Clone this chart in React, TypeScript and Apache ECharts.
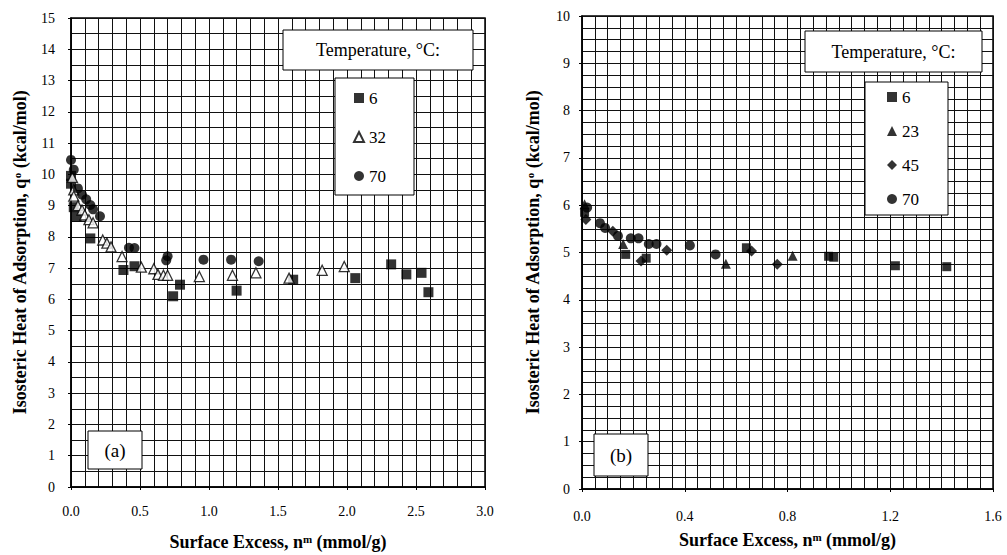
import React, { useEffect, useRef } from "react";
import * as echarts from "echarts";

// Panel (a): x = surface excess (mmol/g), y = isosteric heat (kcal/mol)
const a6: number[][] = [[0.0,9.95],[0.0,9.7],[0.02,8.95],[0.04,8.65],[0.14,7.95],[0.38,6.94],[0.46,7.06],[0.74,6.1],[0.79,6.47],[1.2,6.28],[1.61,6.63],[2.06,6.68],[2.32,7.12],[2.43,6.8],[2.54,6.85],[2.59,6.23]];
const a32: number[][] = [[0.01,9.9],[0.02,9.5],[0.02,9.3],[0.05,9.0],[0.08,8.86],[0.1,8.7],[0.13,8.55],[0.16,8.45],[0.23,7.9],[0.26,7.8],[0.29,7.68],[0.37,7.37],[0.51,7.03],[0.6,6.98],[0.63,6.8],[0.67,6.77],[0.7,6.77],[0.93,6.73],[1.17,6.77],[1.34,6.85],[1.58,6.68],[1.82,6.93],[1.98,7.05]];
const a70: number[][] = [[0.0,10.46],[0.02,10.15],[0.05,9.55],[0.08,9.35],[0.11,9.2],[0.14,9.02],[0.16,8.88],[0.21,8.66],[0.42,7.65],[0.46,7.64],[0.69,7.25],[0.7,7.38],[0.96,7.27],[1.16,7.27],[1.36,7.22]];

// Panel (b)
const b6: number[][] = [[0.01,5.85],[0.17,4.96],[0.25,4.88],[0.64,5.1],[0.96,4.92],[0.98,4.9],[1.22,4.72],[1.42,4.7]];
const b23: number[][] = [[0.01,6.02],[0.16,5.18],[0.56,4.76],[0.82,4.93]];
const b45: number[][] = [[0.015,5.7],[0.12,5.45],[0.23,4.82],[0.33,5.05],[0.66,5.03],[0.76,4.75]];
const b70: number[][] = [[0.02,5.95],[0.07,5.62],[0.09,5.52],[0.14,5.35],[0.19,5.3],[0.22,5.3],[0.26,5.18],[0.29,5.18],[0.42,5.15],[0.52,4.96]];

const legendA = ["6", "32", "70"];
const legendB = ["6", "23", "45", "70"];
const xTitle = "Surface Excess, n{sup|m} (mmol/g)";
const yTitle = "Isosteric Heat of Adsorption, q{sup|o} (kcal/mol)";
const tempTitle = "Temperature, °C:";

const FONT = "'Liberation Serif', 'Times New Roman', serif";

const supStyle = { fontFamily: FONT, fontWeight: "bold", fontSize: 11, verticalAlign: "top", padding: [0, 0, 7, 0] };
const titleStyle = { fontFamily: FONT, fontWeight: "bold", fontSize: 18, color: "#000", rich: { sup: supStyle } };

function makeX(gridIndex: number, max: number, interval: number, minor: number, margin: number, gap: number) {
  return {
    type: "value", gridIndex, min: 0, max, interval,
    name: xTitle, nameLocation: "middle", nameGap: gap, nameTextStyle: titleStyle,
    axisLine: { show: true, lineStyle: { color: "#000", width: 1.5 } },
    axisTick: { show: true, length: 3, lineStyle: { color: "#000" } },
    minorTick: { show: false, splitNumber: minor },
    axisLabel: { fontFamily: FONT, fontSize: 14, color: "#000", margin, formatter: (v: number) => v.toFixed(1) },
    splitLine: { show: true, lineStyle: { color: "#111", width: 1 } },
    minorSplitLine: { show: true, lineStyle: { color: "#111", width: 1 } },
  };
}

function makeY(gridIndex: number, max: number, minor: number, margin: number, gap: number) {
  return {
    type: "value", gridIndex, min: 0, max, interval: 1,
    name: yTitle, nameLocation: "middle", nameGap: gap, nameRotate: 90, nameTextStyle: titleStyle,
    axisLine: { show: true, lineStyle: { color: "#000", width: 1.5 } },
    axisTick: { show: true, length: 3, lineStyle: { color: "#000" } },
    minorTick: { show: false, splitNumber: minor },
    axisLabel: { fontFamily: FONT, fontSize: 14, color: "#000", margin },
    splitLine: { show: true, lineStyle: { color: "#111", width: 1 } },
    minorSplitLine: { show: true, lineStyle: { color: "#111", width: 1 } },
  };
}

function scatter(name: string, data: number[][], idx: number, symbol: string, size: number, open = false) {
  return {
    type: "scatter", name, data, xAxisIndex: idx, yAxisIndex: idx, symbol, symbolSize: size,
    itemStyle: open ? { color: "#fff", borderColor: "#000", borderWidth: 1.3 } : { color: "#000" },
    z: 5,
  };
}

function boxText(x: number, y: number, w: number, h: number, text: string, fs: number) {
  return {
    type: "group", z: 50,
    children: [
      { type: "rect", shape: { x, y, width: w, height: h }, style: { fill: "#fff", stroke: "#000", lineWidth: 1 }, z: 50 },
      { type: "text", x: x + w / 2, y: y + h / 2, z: 51,
        style: { text, fontFamily: FONT, fontSize: fs, fill: "#000", align: "center", verticalAlign: "middle" } },
    ],
  };
}

export default function App() {
  const ref = useRef<HTMLDivElement>(null);
  useEffect(() => {
    if (!ref.current) return;
    const chart = echarts.init(ref.current, undefined, { renderer: "svg" });
    const legendText = { fontFamily: FONT, fontSize: 17, color: "#000", lineHeight: 20 };
    chart.setOption({
      animation: false,
      backgroundColor: "#fff",
      textStyle: { fontFamily: FONT },
      grid: [
        { left: 71, right: 522, top: 18, bottom: 68, show: true, borderColor: "#000", borderWidth: 1.5, backgroundColor: "transparent", containLabel: false, outerBoundsMode: "none" },
        { left: 582, right: 14, top: 16, bottom: 66, show: true, borderColor: "#000", borderWidth: 1.5, backgroundColor: "transparent", containLabel: false, outerBoundsMode: "none" },
      ],
      xAxis: [makeX(0, 3, 0.5, 5, 17, 46), makeX(1, 1.6, 0.4, 8, 20, 42)],
      yAxis: [makeY(0, 15, 2, 16, 42), makeY(1, 10, 4, 12, 40)],
      legend: [
        {
          orient: "vertical", left: 335, top: 78, padding: [10, 28, 9, 18], itemGap: 19,
          itemWidth: 10, itemHeight: 10, backgroundColor: "#fff", borderColor: "#000", borderWidth: 1,
          data: [
            { name: "a" + legendA[0], icon: "rect" },
            { name: "a" + legendA[1], icon: "triangle" },
            { name: "a" + legendA[2], icon: "circle" },
          ],
          formatter: (n: string) => n.slice(1), textStyle: legendText, selectedMode: false, z: 40,
        },
        {
          orient: "vertical", left: 865, top: 82, padding: [5, 29, 6, 22], itemGap: 14,
          itemWidth: 10, itemHeight: 10, backgroundColor: "#fff", borderColor: "#000", borderWidth: 1,
          data: [
            { name: "b" + legendB[0], icon: "rect" },
            { name: "b" + legendB[1], icon: "triangle" },
            { name: "b" + legendB[2], icon: "diamond" },
            { name: "b" + legendB[3], icon: "circle" },
          ],
          formatter: (n: string) => n.slice(1), textStyle: legendText, selectedMode: false, z: 40,
        },
      ],
      series: [
        scatter("a" + legendA[0], a6, 0, "rect", 10),
        scatter("a" + legendA[1], a32, 0, "triangle", 10, true),
        scatter("a" + legendA[2], a70, 0, "circle", 10),
        scatter("b" + legendB[0], b6, 1, "rect", 9),
        scatter("b" + legendB[1], b23, 1, "triangle", 10),
        scatter("b" + legendB[2], b45, 1, "diamond", 11),
        scatter("b" + legendB[3], b70, 1, "circle", 10),
      ],
      graphic: [
        boxText(283, 30, 190, 40, tempTitle, 18),
        boxText(805, 31, 177, 41, tempTitle, 18),
        boxText(88, 431, 54, 38, "(a)", 19),
        boxText(594, 434, 54, 42, "(b)", 19),
      ],
    });
    return () => chart.dispose();
  }, []);
  return <div ref={ref} style={{ position: "absolute", left: 0, top: 0, width: 1007, height: 555 }} />;
}
